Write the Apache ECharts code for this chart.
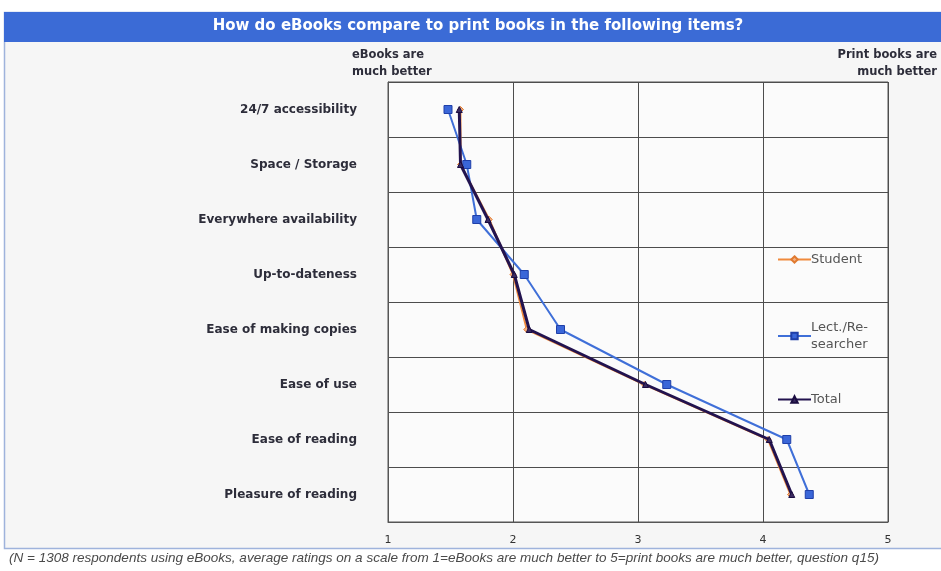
<!DOCTYPE html>
<html>
<head>
<meta charset="utf-8">
<script src="https://cdn.jsdelivr.net/npm/echarts@6/dist/echarts.min.js"></script>
<style>
  html, body { margin: 0; padding: 0; background: #ffffff; }
  #chart { width: 941px; height: 571px; }
</style>
</head>
<body>
<div id="chart"></div>
<script>
// Survey items, top to bottom
var items = [
  '24/7 accessibility',
  'Space / Storage',
  'Everywhere availability',
  'Up-to-dateness',
  'Ease of making copies',
  'Ease of use',
  'Ease of reading',
  'Pleasure of reading'
];

// Average ratings (1 = eBooks much better, 5 = print books much better)
var studentRatings  = [1.58, 1.58, 1.81, 2.00, 2.11, 3.05, 4.04, 4.22];
var lecturerRatings = [1.48, 1.63, 1.71, 2.09, 2.38, 3.23, 4.19, 4.37];
var totalRatings    = [1.57, 1.58, 1.80, 2.01, 2.13, 3.06, 4.05, 4.23];

var scaleTicks = [1, 2, 3, 4, 5];

var SANS = 'Liberation Sans, Arial, sans-serif';
var WIDE = 'DejaVu Sans, Verdana, sans-serif';

var chart = echarts.init(document.getElementById('chart'));

chart.setOption({
  backgroundColor: '#ffffff',
  animation: false,
  graphic: [
    // outer panel
    { type: 'rect', z: -10, shape: { x: 4.5, y: 12.5, width: 945, height: 536 },
      style: { fill: '#f6f6f6', stroke: '#9fb3dc', lineWidth: 1.5 } },
    // title banner
    { type: 'rect', z: -9, shape: { x: 4, y: 12, width: 945, height: 30 },
      style: { fill: '#3b6bd6' } },
    { type: 'text', x: 478, y: 19,
      style: { text: 'How do eBooks compare to print books in the following items?',
        fill: '#ffffff', font: 'bold 15px ' + WIDE, align: 'center', verticalAlign: 'top' } },
    { type: 'text', x: 352, y: 47,
      style: { text: 'eBooks are\nmuch better', fill: '#2d2d3a',
        font: 'bold 11.5px ' + WIDE, lineHeight: 17, align: 'left', verticalAlign: 'top' } },
    { type: 'text', x: 937, y: 47,
      style: { text: 'Print books are\nmuch better', fill: '#2d2d3a',
        font: 'bold 11.5px ' + WIDE, lineHeight: 17, align: 'right', verticalAlign: 'top' } },
    { type: 'text', left: 9, top: 552, scaleX: 1.04,
      style: { text: '(N = 1308 respondents using eBooks, average ratings on a scale from 1=eBooks are much better to 5=print books are much better, question q15)',
        fill: '#4a4a4a', font: 'italic 13px ' + SANS } }
  ],
  grid: {
    left: 388, right: 53, top: 82, bottom: 49,
    show: true, backgroundColor: '#fbfbfb',
    borderColor: '#555555', borderWidth: 1
  },
  legend: [
    { data: ['Student'], left: 772, top: 248, itemWidth: 33, itemHeight: 8, itemGap: 0,
      textStyle: { color: '#555', fontSize: 13, fontFamily: WIDE, padding: [0, 0, 0, -5] } },
    { data: ['Lect./Researcher'], left: 772, top: 314, itemWidth: 33, itemHeight: 8,
      formatter: function () { return 'Lect./Re-\nsearcher'; },
      textStyle: { color: '#555', fontSize: 13, fontFamily: WIDE, lineHeight: 17,
        padding: [0, 0, 0, -5] } },
    { data: ['Total'], left: 772, top: 388, itemWidth: 33, itemHeight: 8,
      textStyle: { color: '#555', fontSize: 13, fontFamily: WIDE, padding: [0, 0, 0, -5] } }
  ],
  xAxis: {
    type: 'value', min: scaleTicks[0], max: scaleTicks[scaleTicks.length - 1], interval: 1,
    axisLine: { show: true, lineStyle: { color: '#555', width: 1 } },
    axisTick: { show: false },
    axisLabel: { color: '#333', fontSize: 11, fontFamily: WIDE, margin: 13 },
    splitLine: { show: true, lineStyle: { color: '#4d4d4d', width: 1 } }
  },
  yAxis: {
    type: 'category', data: items, inverse: true,
    axisLine: { show: true, lineStyle: { color: '#555' } },
    axisTick: { show: false },
    axisLabel: { color: '#2d2d3a', fontSize: 12, fontWeight: 'bold', fontFamily: WIDE, margin: 31 },
    splitLine: { show: true, lineStyle: { color: '#4d4d4d', width: 1 } }
  },
  series: [
    { name: 'Student', type: 'line', data: studentRatings, z: 2,
      symbol: 'diamond', symbolSize: 6,
      lineStyle: { color: '#f08a3c', width: 2 },
      itemStyle: { color: '#f5b080', borderColor: '#e07a30', borderWidth: 1 } },
    { name: 'Lect./Researcher', type: 'line', data: lecturerRatings, z: 3,
      symbol: 'rect', symbolSize: 8,
      lineStyle: { color: '#3f6fd8', width: 2 },
      itemStyle: { color: '#3a66d8', borderColor: '#1f3fa8', borderWidth: 1 } },
    { name: 'Total', type: 'line', data: totalRatings, z: 4,
      symbol: 'triangle', symbolSize: 6,
      lineStyle: { color: '#22134f', width: 3 },
      itemStyle: { color: '#3a2a60', borderColor: '#1a0c40', borderWidth: 1 } }
  ]
});
</script>
</body>
</html>
